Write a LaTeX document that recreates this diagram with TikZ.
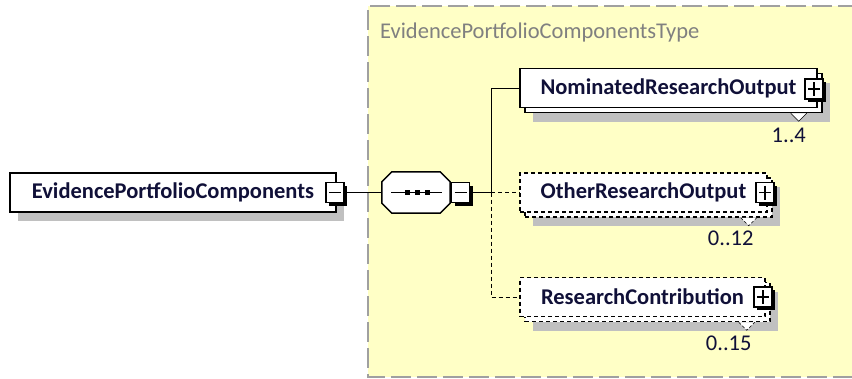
\documentclass[tikz,border=0pt]{standalone}
\usepackage{fontspec}
\setmainfont{Carlito}
\usetikzlibrary{shadows,calc}

\definecolor{typefill}{HTML}{FFFFC6}
\definecolor{typeedge}{HTML}{A0A0A0}
\definecolor{typetext}{HTML}{808080}
\definecolor{shadowgray}{HTML}{C0C0C0}
\definecolor{inktext}{HTML}{101038}

\tikzset{
  shade/.style={drop shadow={shadow xshift=8pt, shadow yshift=-9pt, fill=shadowgray, opacity=1}},
  elembox/.style={draw, fill=white, line width=1.5pt, minimum height=39pt, inner sep=0pt,
    font=\fontsize{22.5}{25}\selectfont\bfseries, text=inktext},
  optional/.style={dash pattern=on 4pt off 3pt},
  togglebox/.style={draw, fill=white, line width=1.3pt, minimum width=18pt, minimum height=20pt, inner sep=0pt,
    drop shadow={shadow xshift=3pt, shadow yshift=-3pt, fill=black, opacity=1}},
  minusbox/.style={togglebox, path picture={
    \draw[line width=1.2pt] ([xshift=3pt]path picture bounding box.west) -- ([xshift=-3pt]path picture bounding box.east);}},
  plusbox/.style={togglebox, path picture={
    \draw[line width=1.2pt] ([xshift=3pt]path picture bounding box.west) -- ([xshift=-3pt]path picture bounding box.east);
    \draw[line width=1.2pt] ([yshift=-3pt]path picture bounding box.north) -- ([yshift=3pt]path picture bounding box.south);}},
  occurs/.style={font=\fontsize{22.5}{25}\selectfont, text=inktext, inner sep=0pt},
  connector/.style={line width=1pt},
  repeatmark/.style={fill=white, draw, line width=0.6pt},
  octagon path/.style={insert path={
    ($(seq.north west)+(10,0)$) -- ($(seq.north east)+(-10,0)$) -- ($(seq.north east)+(0,10)$) --
    ($(seq.south east)+(0,-10)$) -- ($(seq.south east)+(-10,0)$) -- ($(seq.south west)+(10,0)$) --
    ($(seq.south west)+(0,-10)$) -- ($(seq.north west)+(0,10)$) -- cycle}},
}

\begin{document}
\begin{tikzpicture}[x=1pt,y=-1pt]
\useasboundingbox (0,0) rectangle (852,378);

% complex type area
\fill[typefill] (368,6) rectangle (858,377);
\draw[typeedge, line width=2pt, dash pattern=on 20pt off 6pt] (858,6) -- (368,6) -- (368,377) -- (858,377);
\node[anchor=west, font=\fontsize{22.5}{25}\selectfont, text=typetext, inner sep=0pt] (typename) at (380,32) {EvidencePortfolioComponentsType};

% root element
\node[elembox, shade, minimum width=326pt] (epc) at (173,192.5) {EvidencePortfolioComponents};
\node[minusbox] (epcT) at (335,192.5) {};

% sequence compositor (octagon with shadow)
\node[minimum width=68pt, minimum height=41pt, inner sep=0pt] (seq) at (416,192.5) {};
\fill[shadowgray, shift={(9,8)}] [octagon path];
\draw[fill=white, line width=1.5pt] [octagon path];
\draw[connector] (391,192.5) -- (442,192.5);
\foreach \dx in {407,417,427} \fill (\dx-2.5,190) rectangle (\dx+2.5,195);
\node[minusbox] (seqT) at (460.5,192.5) {};

\coordinate (br) at (491,192.5);

% NominatedResearchOutput (1..4)
\node[elembox, shade, minimum width=297pt] (nroB) at (673.5,93) {};
\draw[repeatmark] ($(nroB.south east)+(-32,0)$) -- ($(nroB.south east)+(-24,8)$) -- ($(nroB.south east)+(-16,0)$);
\node[elembox, minimum width=297pt] (nro) at (668.5,88) {NominatedResearchOutput};
\node[plusbox] (nroT) at (814,89) {};
\node[occurs] (nroN) at ($(nroB.south east)+(-34,22)$) {1..4};

% OtherResearchOutput (0..12)
\node[elembox, optional, shade, minimum width=247pt] (oroB) at (648.5,197.5) {};
\draw[repeatmark, dash pattern=on 3pt off 2pt] ($(oroB.south east)+(-32,0)$) -- ($(oroB.south east)+(-24,8)$) -- ($(oroB.south east)+(-16,0)$);
\node[elembox, optional, minimum width=247pt] (oro) at (643.5,192.5) {OtherResearchOutput};
\node[plusbox] (oroT) at (765,192.5) {};
\node[occurs] (oroN) at ($(oroB.south east)+(-42,21)$) {0..12};

% ResearchContribution (0..15)
\node[elembox, optional, shade, minimum width=245pt] (rcB) at (647.5,302) {};
\draw[repeatmark, dash pattern=on 3pt off 2pt] ($(rcB.south east)+(-32,0)$) -- ($(rcB.south east)+(-24,8)$) -- ($(rcB.south east)+(-16,0)$);
\node[elembox, optional, minimum width=245pt] (rc) at (642.5,297) {ResearchContribution};
\node[plusbox] (rcT) at (763,297) {};
\node[occurs] (rcN) at ($(rcB.south east)+(-42,21)$) {0..15};

% connectors
\draw[connector] (epcT.east) -- (seq.west);
\draw[connector] (seqT.east) -- (br);
\draw[connector] (br) |- (nro.west);
\draw[connector, optional] (br) -- (oro.west);
\draw[connector, optional] (br) |- (rc.west);
\end{tikzpicture}
\end{document}
